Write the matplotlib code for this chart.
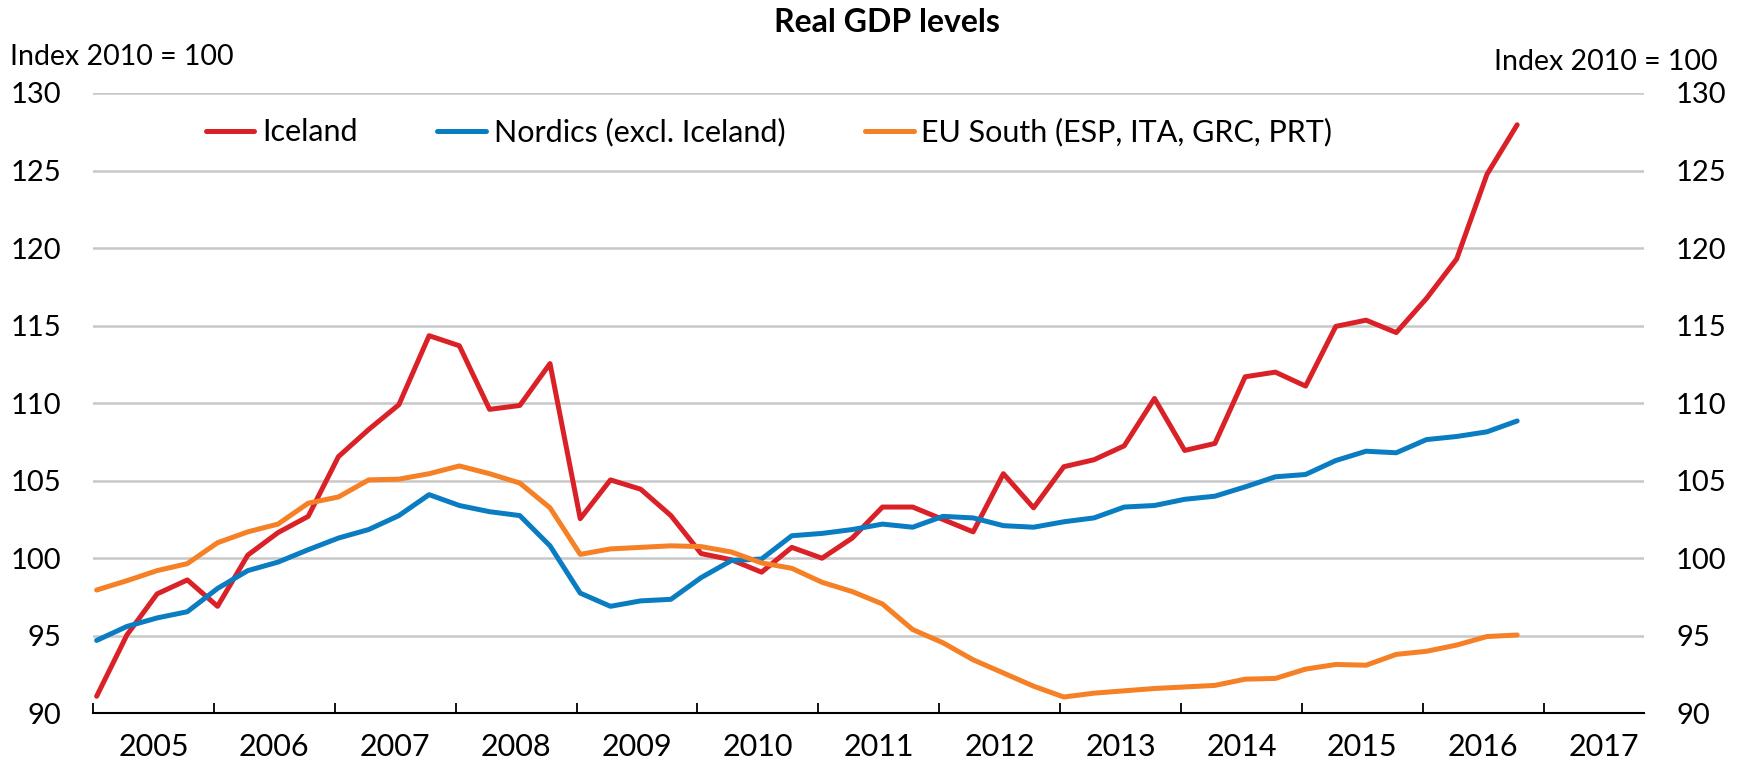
import numpy as np
import matplotlib
matplotlib.use('Agg')
from matplotlib import pyplot as plt

plt.rcParams['font.family'] = ['Lato', 'DejaVu Sans']

# quarterly data, 2005Q1 - 2016Q4
iceland = [91.1, 95.05, 97.7, 98.6, 96.9, 100.2, 101.65, 102.7,
           106.55, 108.3, 109.9, 114.35, 113.7, 109.6, 109.85, 112.55,
           102.55, 105.05, 104.45, 102.75, 100.3, 99.9, 99.1, 100.7,
           100.0, 101.3, 103.3, 103.3, 102.5, 101.7, 105.45, 103.25,
           105.9, 106.35, 107.25, 110.3, 106.95, 107.4, 111.7, 112.0,
           111.1, 114.95, 115.35, 114.55, 116.75, 119.3, 124.75, 127.95]
nordics = [94.7, 95.6, 96.15, 96.55, 98.05, 99.2, 99.75, 100.55,
           101.3, 101.85, 102.75, 104.1, 103.4, 103.0, 102.75, 100.8,
           97.75, 96.9, 97.25, 97.35, 98.75, 99.85, 99.95, 101.45,
           101.6, 101.85, 102.2, 102.0, 102.7, 102.6, 102.1, 102.0,
           102.35, 102.6, 103.3, 103.4, 103.8, 104.0, 104.6, 105.25,
           105.4, 106.3, 106.9, 106.8, 107.65, 107.85, 108.15, 108.85]
eu_south = [97.95, 98.55, 99.2, 99.65, 101.0, 101.7, 102.2, 103.55,
            103.95, 105.05, 105.1, 105.45, 105.95, 105.45, 104.85, 103.25,
            100.25, 100.6, 100.7, 100.8, 100.75, 100.4, 99.7, 99.35,
            98.45, 97.85, 97.05, 95.4, 94.55, 93.45, 92.6, 91.75,
            91.05, 91.3, 91.45, 91.6, 91.7, 91.8, 92.2, 92.25,
            92.85, 93.15, 93.1, 93.8, 94.0, 94.4, 94.95, 95.05]
years = list(range(2005, 2018))
series_names = ['Iceland', 'Nordics (excl. Iceland)', 'EU South (ESP, ITA, GRC, PRT)']

x = 2005.03 + 0.25 * np.arange(len(iceland))

fig = plt.figure(figsize=(17.42, 7.59), dpi=100)
ax = fig.add_axes([0.0534, 0.0602, 0.8904, 0.8173])

ax.plot(x, iceland, color='#DA2128', lw=3.6, label=series_names[0], solid_capstyle='round')
ax.plot(x, nordics, color='#0A7DC2', lw=3.6, label=series_names[1], solid_capstyle='round')
ax.plot(x, eu_south, color='#F58025', lw=3.6, label=series_names[2], solid_capstyle='round')

ax.set_xlim(2005, 2017.83)
ax.set_ylim(90, 130)
yt = np.arange(90, 131, 5)
ax.set_yticks(yt)
ax.yaxis.grid(True, color='#c8c8c8', lw=1.8)
ax.set_axisbelow(True)
for s in ['top', 'left', 'right']:
    ax.spines[s].set_visible(False)
ax.spines['bottom'].set_linewidth(1.5)
ax.tick_params(axis='y', length=0, pad=23, labelsize=21)

ax.set_xticks(years)
ax.set_xticklabels([])
ax.set_xticks([y + 0.5 for y in years], minor=True)
ax.set_xticklabels([str(y) for y in years], minor=True)
ax.tick_params(axis='x', which='major', direction='in', length=7, width=1.3)
ax.tick_params(axis='x', which='minor', length=0, pad=14, labelsize=22)

ax2 = ax.twinx()
ax2.set_ylim(ax.get_ylim())
ax2.set_yticks(yt)
for s in ax2.spines.values():
    s.set_visible(False)
ax2.tick_params(axis='y', length=0, pad=23, labelsize=21)

fig.text(0.509, 0.971, 'Real GDP levels', ha='center', va='center',
         fontsize=23, fontweight='bold')
fig.text(0.006, 0.925, 'Index 2010 = 100', ha='left', va='center', fontsize=20.5)
fig.text(0.986, 0.918, 'Index 2010 = 100', ha='right', va='center', fontsize=20.5)

fig.legend(loc='center left', bbox_to_anchor=(0.118, 0.826), ncol=3, frameon=False,
           fontsize=22, handlelength=1.6, handletextpad=0.25, columnspacing=2.6,
           borderaxespad=0, borderpad=0)

fig.savefig('out.png', dpi=100)
